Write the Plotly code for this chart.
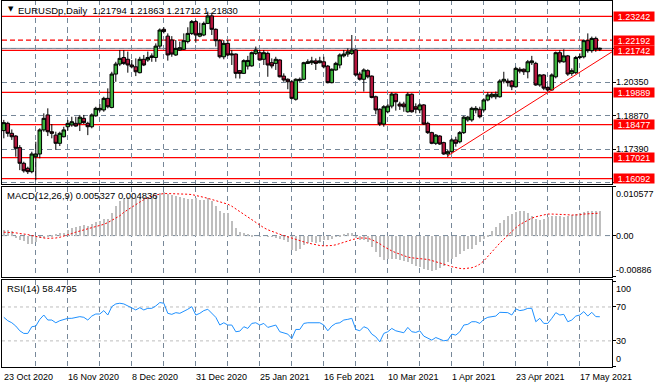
import pandas as pd
import plotly.graph_objects as go
from plotly.subplots import make_subplots

# ---------------- data ----------------
dates = [d.strftime("%Y-%m-%d") for d in pd.bdate_range("2020-10-23", "2021-05-24")
         if d.strftime("%m-%d") not in ("12-25", "01-01")]

opens = [1.1821, 1.1853, 1.1809, 1.1797, 1.1746, 1.1677, 1.1655, 1.1640, 1.1706, 1.1718,
         1.1824, 1.1890, 1.1816, 1.1801, 1.1765, 1.1794, 1.1838, 1.1846, 1.1853, 1.1853,
         1.1875, 1.1853, 1.1838, 1.1886, 1.1912, 1.1912, 1.1963, 1.1923, 1.2070, 1.2114,
         1.2143, 1.2135, 1.2110, 1.2102, 1.2076, 1.2135, 1.2132, 1.2143, 1.2143, 1.2193,
         1.2267, 1.2237, 1.2220, 1.2154, 1.2176, 1.2179, 1.2213, 1.2249, 1.2301, 1.2237,
         1.2242, 1.2293, 1.2326, 1.2267, 1.2217, 1.2146, 1.2205, 1.2154, 1.2158, 1.2085,
         1.2073, 1.2105, 1.2106, 1.2161, 1.2164, 1.2135, 1.2161, 1.2120, 1.2117, 1.2132,
         1.2061, 1.2047, 1.2036, 1.1959, 1.2041, 1.2047, 1.2117, 1.2120, 1.2128, 1.2120,
         1.2124, 1.2105, 1.2032, 1.2088, 1.2110, 1.2150, 1.2158, 1.2161, 1.2176, 1.2070,
         1.2047, 1.2085, 1.2061, 1.1970, 1.1915, 1.1850, 1.1904, 1.1929, 1.1982, 1.1938,
         1.1938, 1.1904, 1.1981, 1.1926, 1.1912, 1.1934, 1.1853, 1.1812, 1.1765, 1.1797,
         1.1768, 1.1718, 1.1728, 1.1780, 1.1772, 1.1812, 1.1868, 1.1868, 1.1912, 1.1915,
         1.1912, 1.1956, 1.1970, 1.1970, 1.1970, 1.2039, 1.2039, 1.2039, 1.2014, 1.2091,
         1.2091, 1.2080, 1.2120, 1.2117, 1.2022, 1.2066, 1.2011, 1.2000, 1.2058, 1.2164,
         1.2124, 1.2150, 1.2073, 1.2076, 1.2143, 1.2146, 1.2217, 1.2173, 1.2227, 1.21794]
highs = [1.1868, 1.1860, 1.1826, 1.1801, 1.1757, 1.1684, 1.1662, 1.1728, 1.1772, 1.1831,
         1.1897, 1.1919, 1.1850, 1.1816, 1.1816, 1.1838, 1.1868, 1.1882, 1.1882, 1.1890,
         1.1890, 1.1860, 1.1897, 1.1926, 1.1938, 1.1970, 1.2007, 1.2080, 1.2124, 1.2176,
         1.2176, 1.2169, 1.2132, 1.2139, 1.2146, 1.2154, 1.2169, 1.2161, 1.2205, 1.2271,
         1.2276, 1.2249, 1.2237, 1.2220, 1.2213, 1.2249, 1.2276, 1.2308, 1.2308, 1.2296,
         1.2301, 1.2345, 1.2340, 1.2271, 1.2223, 1.2220, 1.2220, 1.2176, 1.2161, 1.2088,
         1.2135, 1.2150, 1.2169, 1.2191, 1.2176, 1.2176, 1.2169, 1.2139, 1.2146, 1.2135,
         1.2073, 1.2051, 1.2044, 1.2051, 1.2055, 1.2124, 1.2135, 1.2146, 1.2139, 1.2146,
         1.2146, 1.2110, 1.2095, 1.2124, 1.2161, 1.2176, 1.2183, 1.2242, 1.2179, 1.2080,
         1.2095, 1.2091, 1.2064, 1.1975, 1.1919, 1.1933, 1.1938, 1.1990, 1.1985, 1.1948,
         1.1948, 1.1990, 1.1985, 1.1941, 1.1941, 1.1938, 1.1860, 1.1816, 1.1806, 1.1801,
         1.1772, 1.1736, 1.1787, 1.1794, 1.1819, 1.1886, 1.1886, 1.1926, 1.1929, 1.1926,
         1.1963, 1.1990, 1.1990, 1.1993, 1.2047, 1.2080, 1.2050, 1.2044, 1.2102, 1.2100,
         1.2095, 1.2132, 1.2150, 1.2124, 1.2070, 1.2070, 1.2017, 1.2073, 1.2169, 1.2176,
         1.2179, 1.2154, 1.2095, 1.2150, 1.2161, 1.2223, 1.2249, 1.2235, 1.2235, 1.21863]
lows = [1.1787, 1.1794, 1.1780, 1.1706, 1.1647, 1.1636, 1.1630, 1.1633, 1.1603, 1.1699,
        1.1816, 1.1797, 1.1787, 1.1736, 1.1753, 1.1791, 1.1821, 1.1838, 1.1838, 1.1819,
        1.1850, 1.1801, 1.1831, 1.1882, 1.1904, 1.1904, 1.1919, 1.1919, 1.2036, 1.2105,
        1.2110, 1.2076, 1.2095, 1.2061, 1.2073, 1.2105, 1.2124, 1.2124, 1.2124, 1.2183,
        1.2249, 1.2129, 1.2146, 1.2150, 1.2173, 1.2176, 1.2205, 1.2242, 1.2208, 1.2232,
        1.2237, 1.2290, 1.2242, 1.2191, 1.2139, 1.2135, 1.2149, 1.2110, 1.2051, 1.2050,
        1.2070, 1.2090, 1.2102, 1.2154, 1.2129, 1.2110, 1.2058, 1.2095, 1.2088, 1.2055,
        1.2036, 1.2003, 1.1959, 1.1953, 1.2036, 1.2044, 1.2114, 1.2110, 1.2088, 1.2117,
        1.2095, 1.2029, 1.2029, 1.2085, 1.2095, 1.2143, 1.2146, 1.2154, 1.2062, 1.2041,
        1.1993, 1.2051, 1.1963, 1.1893, 1.1841, 1.1838, 1.1897, 1.1919, 1.1909, 1.1912,
        1.1904, 1.1900, 1.1900, 1.1897, 1.1897, 1.1846, 1.1806, 1.1761, 1.1758, 1.1758,
        1.1714, 1.1704, 1.1721, 1.1750, 1.1765, 1.1806, 1.1860, 1.1860, 1.1897, 1.1875,
        1.1904, 1.1950, 1.1963, 1.1959, 1.1966, 1.2029, 1.2015, 1.1999, 1.2010, 1.2073,
        1.2066, 1.2051, 1.2110, 1.2018, 1.2014, 1.1999, 1.1993, 1.1996, 1.2051, 1.2117,
        1.2120, 1.2062, 1.2062, 1.2070, 1.2135, 1.2139, 1.2164, 1.2164, 1.2168, 1.21712]
closes = [1.1856, 1.1809, 1.1794, 1.1743, 1.1677, 1.1644, 1.1640, 1.1718, 1.1718, 1.1824,
          1.1875, 1.1816, 1.1809, 1.1765, 1.1809, 1.1824, 1.1853, 1.1860, 1.1841, 1.1880,
          1.1856, 1.1838, 1.1890, 1.1919, 1.1919, 1.1963, 1.1926, 1.2070, 1.2114, 1.2139,
          1.2117, 1.2110, 1.2102, 1.2080, 1.2135, 1.2110, 1.2143, 1.2150, 1.2193, 1.2264,
          1.2257, 1.2154, 1.2158, 1.2183, 1.2186, 1.2217, 1.2249, 1.2301, 1.2242, 1.2249,
          1.2293, 1.2326, 1.2267, 1.2217, 1.2146, 1.2205, 1.2154, 1.2158, 1.2073, 1.2073,
          1.2129, 1.2130, 1.2164, 1.2176, 1.2132, 1.2164, 1.2110, 1.2106, 1.2135, 1.2058,
          1.2044, 1.2036, 1.1963, 1.2047, 1.2047, 1.2120, 1.2124, 1.2128, 1.2117, 1.2128,
          1.2102, 1.2032, 1.2091, 1.2117, 1.2154, 1.2158, 1.2168, 1.2176, 1.2066, 1.2047,
          1.2088, 1.2058, 1.1967, 1.1912, 1.1850, 1.1926, 1.1929, 1.1982, 1.1948, 1.1929,
          1.1926, 1.1981, 1.1904, 1.1915, 1.1934, 1.1850, 1.1812, 1.1765, 1.1801, 1.1762,
          1.1718, 1.1728, 1.1780, 1.1765, 1.1812, 1.1880, 1.1880, 1.1919, 1.1919, 1.1882,
          1.1956, 1.1978, 1.1981, 1.1981, 1.2039, 1.2047, 1.2032, 1.2014, 1.2095, 1.2083,
          1.2080, 1.2124, 1.2128, 1.2022, 1.2066, 1.2008, 1.2000, 1.2066, 1.2164, 1.2124,
          1.2150, 1.2070, 1.2085, 1.2143, 1.2146, 1.2217, 1.2173, 1.2227, 1.2179, 1.21830]

macd_main = [0.00133, 0.00133, 0.00118, -0.00029, -0.00074, -0.00110, -0.00162, -0.00177, -0.00125, -0.00029,
             -0.00029, 0.00022, 0.00022, 0.00044, 0.00059, 0.00074, 0.00133, 0.00169, 0.00206, 0.00228,
             0.00243, 0.00221, 0.00265, 0.00295, 0.00317, 0.00368, 0.00368, 0.00501, 0.00648, 0.00758,
             0.00810, 0.00832, 0.00832, 0.00810, 0.00832, 0.00832, 0.00832, 0.00854, 0.00884, 0.00928,
             0.00942, 0.00906, 0.00884, 0.00869, 0.00832, 0.00810, 0.00795, 0.00795, 0.00810, 0.00780,
             0.00780, 0.00810, 0.00758, 0.00648, 0.00538, 0.00501, 0.00501, 0.00317, 0.00169, 0.00096,
             0.00059, 0.00044, 0.00022, 0.00000, -0.00015, 0.00000, -0.00015, -0.00015, -0.00029, -0.00052,
             -0.00088, -0.00125, -0.00309, -0.00324, -0.00272, -0.00199, -0.00147, -0.00125, -0.00147, -0.00125,
             -0.00074, -0.00088, -0.00052, -0.00015, 0.00022, 0.00044, 0.00059, 0.00074, -0.00029, -0.00074,
             -0.00088, -0.00125, -0.00236, -0.00346, -0.00457, -0.00515, -0.00493, -0.00493, -0.00493, -0.00515,
             -0.00545, -0.00567, -0.00604, -0.00641, -0.00663, -0.00714, -0.00736, -0.00751, -0.00736, -0.00692,
             -0.00641, -0.00567, -0.00493, -0.00442, -0.00383, -0.00324, -0.00272, -0.00272, -0.00199, -0.00125,
             -0.00052, 0.00022, 0.00118, 0.00206, 0.00280, 0.00353, 0.00427, 0.00479, 0.00523, 0.00538,
             0.00538, 0.00501, 0.00442, 0.00368, 0.00339, 0.00368, 0.00412, 0.00427, 0.00442, 0.00427,
             0.00412, 0.00427, 0.00464, 0.00486, 0.00501, 0.00523, 0.00538, 0.00545, 0.00530, 0.005327]
macd_signal = [0.00074, 0.00074, 0.00066, 0.00059, 0.00044, 0.00037, 0.00022, 0.00000, -0.00022, -0.00044,
               -0.00052, -0.00059, -0.00059, -0.00052, -0.00037, -0.00015, 0.00015, 0.00044, 0.00074, 0.00096,
               0.00118, 0.00140, 0.00162, 0.00184, 0.00206, 0.00243, 0.00280, 0.00324, 0.00368, 0.00427,
               0.00501, 0.00560, 0.00618, 0.00670, 0.00722, 0.00773, 0.00817, 0.00854, 0.00876, 0.00898,
               0.00906, 0.00906, 0.00906, 0.00906, 0.00898, 0.00898, 0.00891, 0.00884, 0.00869, 0.00847,
               0.00825, 0.00803, 0.00780, 0.00758, 0.00736, 0.00707, 0.00677, 0.00633, 0.00574, 0.00515,
               0.00457, 0.00398, 0.00339, 0.00280, 0.00221, 0.00169, 0.00125, 0.00088, 0.00059, 0.00029,
               0.00000, -0.00029, -0.00059, -0.00088, -0.00118, -0.00140, -0.00162, -0.00177, -0.00199, -0.00214,
               -0.00221, -0.00221, -0.00214, -0.00199, -0.00177, -0.00147, -0.00118, -0.00088, -0.00066, -0.00052,
               -0.00052, -0.00059, -0.00088, -0.00125, -0.00177, -0.00236, -0.00287, -0.00331, -0.00368, -0.00405,
               -0.00442, -0.00464, -0.00479, -0.00486, -0.00493, -0.00501, -0.00515, -0.00538, -0.00560, -0.00582,
               -0.00611, -0.00641, -0.00670, -0.00692, -0.00707, -0.00714, -0.00707, -0.00692, -0.00663, -0.00618,
               -0.00545, -0.00457, -0.00353, -0.00258, -0.00162, -0.00074, 0.00015, 0.00096, 0.00169, 0.00236,
               0.00287, 0.00339, 0.00376, 0.00405, 0.00427, 0.00449, 0.00464, 0.00464, 0.00464, 0.00464,
               0.00457, 0.00449, 0.00442, 0.00442, 0.00449, 0.00464, 0.00471, 0.00479, 0.00486, 0.004836]
rsi = [57.8, 53.8, 51.4, 47.5, 41.9, 38.8, 38.8, 46.7, 47.5, 55.4,
       60.5, 54.6, 54.6, 51.4, 53.8, 55.4, 56.6, 56.6, 57.8, 58.6,
       57.8, 54.6, 59.3, 61.7, 61.7, 65.7, 60.5, 70.4, 73.6, 74.4,
       73.6, 71.2, 68.4, 66.5, 69.2, 66.5, 68.4, 68.4, 71.2, 75.2,
       74.4, 62.5, 61.3, 63.3, 62.5, 64.5, 67.3, 70.4, 60.5, 62.5,
       65.7, 67.3, 62.5, 57.8, 48.7, 51.4, 48.7, 48.7, 40.8, 41.5,
       46.7, 44.7, 50.6, 51.4, 48.7, 50.6, 45.9, 47.5, 48.7, 40.8,
       39.6, 38.0, 32.8, 43.5, 43.5, 50.6, 51.4, 51.4, 50.6, 51.4,
       48.7, 41.9, 47.5, 50.6, 51.4, 54.6, 55.4, 56.6, 43.5, 41.9,
       46.7, 44.7, 38.0, 34.8, 28.9, 38.8, 40.8, 44.7, 41.9, 40.8,
       39.6, 45.9, 40.8, 40.0, 41.9, 35.6, 32.8, 30.9, 34.0, 31.7,
       30.1, 30.9, 38.0, 36.8, 40.8, 48.7, 49.5, 52.6, 52.6, 50.6,
       55.4, 57.8, 58.6, 59.3, 63.7, 63.7, 63.3, 60.5, 67.7, 65.7,
       66.5, 68.4, 68.4, 52.6, 56.6, 50.6, 50.6, 56.6, 63.3, 60.5,
       61.3, 52.6, 54.6, 59.3, 60.5, 64.5, 59.3, 63.7, 58.6, 58.4795]

# horizontal levels drawn on the price chart
level_values = [1.23242, 1.22192, 1.21742, 1.19889, 1.18477, 1.17021, 1.16092]
level_dashed = [False, True, False, False, False, False, False]
bid_price = 1.21830
price_grid = [1.2183, 1.2035, 1.1887, 1.1739, 1.1591]
price_grid_labels = ["", "1.20350", "1.18870", "1.17390", ""]
trend_x = [111, 152.05]
trend_y = [1.1710, 1.2168]

tick_dates = ["2020-10-23", "2020-11-16", "2020-12-08", "2020-12-31", "2021-01-25",
              "2021-02-16", "2021-03-10", "2021-04-01", "2021-04-23", "2021-05-17"]
tick_labels = ["23 Oct 2020", "16 Nov 2020", "8 Dec 2020", "31 Dec 2020", "25 Jan 2021",
               "16 Feb 2021", "10 Mar 2021", "1 Apr 2021", "23 Apr 2021", "17 May 2021"]

title_text = "EURUSDp,Daily\u00a0\u00a01,21794 1.21863 1.21712 1.21830"
macd_text = "MACD(12,26,9) 0.005327 0.004836"
rsi_text = "RSI(14) 58.4795"
macd_range = [-0.00886, 0.010577]

# ---------------- figure ----------------
W, H = 657, 389
FONT = "Liberation Sans, Arial, sans-serif"
GRID = "#778899"


def px_y(p):
    return 1 - p / H


def px_x(p):
    return p / W


fig = make_subplots(rows=3, cols=1, shared_xaxes=True)

fig.add_trace(go.Candlestick(
    x=dates, open=opens, high=highs, low=lows, close=closes,
    increasing=dict(fillcolor="#3CB43C", line=dict(color="black", width=1)),
    decreasing=dict(fillcolor="#B4143C", line=dict(color="black", width=1)),
    whiskerwidth=0, hoverinfo="skip"), row=1, col=1)

fig.add_trace(go.Bar(x=dates, y=macd_main, width=0.28, marker=dict(color="#BEBEBE", line=dict(width=0))),
              row=2, col=1)
fig.add_trace(go.Scatter(x=dates, y=macd_signal, mode="lines",
                         line=dict(color="#FF0000", width=1, dash="2px,2px")), row=2, col=1)
fig.add_trace(go.Scatter(x=dates, y=rsi, mode="lines",
                         line=dict(color="#1E90FF", width=1)), row=3, col=1)

xgrid = dates[8::8]
for i in (1, 2, 3):
    fig.update_xaxes(type="category", range=[-0.45, 152.05], domain=[px_x(2), px_x(612)],
                     tickvals=xgrid, showticklabels=False, ticks="",
                     showgrid=True, gridcolor=GRID, gridwidth=1, griddash="5px,4px",
                     showline=True, mirror=True, linecolor="black", linewidth=1,
                     zeroline=False, row=i, col=1)
fig.update_xaxes(rangeslider_visible=False, row=1, col=1)

fig.update_yaxes(domain=[px_y(184.3), px_y(0.5)], range=[1.15845, 1.23939], side="right",
                 tickvals=price_grid, showticklabels=False, ticks="outside", ticklen=3,
                 tickcolor="black", showgrid=True, gridcolor=GRID, griddash="5px,4px",
                 showline=True, mirror=True, linecolor="black", zeroline=False, row=1, col=1)
fig.update_yaxes(domain=[px_y(276.7), px_y(186.5)], range=macd_range, side="right",
                 tickvals=[macd_range[1], 0, macd_range[0]], showticklabels=False, ticks="outside",
                 ticklen=3, tickcolor="black", showgrid=False,
                 showline=True, mirror=True, linecolor="black", zeroline=False, row=2, col=1)
fig.update_yaxes(domain=[px_y(366.5), px_y(279.5)], range=[-0.2, 102.4], side="right",
                 tickvals=[100, 70, 30, 0], showticklabels=False, ticks="outside",
                 ticklen=3, tickcolor="black", showgrid=False,
                 showline=True, mirror=True, linecolor="black", zeroline=False, row=3, col=1)

shapes = []
# bid line
shapes.append(dict(type="line", xref="x domain", yref="y", x0=0, x1=1, y0=bid_price, y1=bid_price,
                   line=dict(color=GRID, width=1), layer="below"))
for v, d in zip(level_values, level_dashed):
    shapes.append(dict(type="line", xref="x domain", yref="y", x0=0, x1=1, y0=v, y1=v,
                       line=dict(color="#FF0000", width=1.2, dash="5px,3px" if d else "solid"),
                       layer="below"))
shapes.append(dict(type="line", xref="x", yref="y", x0=trend_x[0], x1=trend_x[1],
                   y0=trend_y[0], y1=trend_y[1], line=dict(color="#FF0000", width=1)))
shapes.append(dict(type="line", xref="x2 domain", yref="y2", x0=0, x1=1, y0=0, y1=0,
                   line=dict(color=GRID, width=1, dash="5px,4px"), layer="below"))
for v in (70, 30):
    shapes.append(dict(type="line", xref="x3 domain", yref="y3", x0=0, x1=1, y0=v, y1=v,
                       line=dict(color="#BDBDBD", width=1, dash="3px,3px"), layer="below"))

ann = []
ann.append(dict(x=px_x(6), y=px_y(9.5), xref="paper", yref="paper", xanchor="left", yanchor="middle",
                text="▼", showarrow=False, font=dict(family="DejaVu Sans", size=7, color="black")))
ann.append(dict(x=px_x(16), y=px_y(10), xref="paper", yref="paper", xanchor="left", yanchor="middle",
                text=title_text, showarrow=False, font=dict(family=FONT, size=9.5, color="black")))
ann.append(dict(x=px_x(5), y=px_y(195.5), xref="paper", yref="paper", xanchor="left", yanchor="middle",
                text=macd_text, showarrow=False, font=dict(family=FONT, size=9.5, color="black")))
ann.append(dict(x=px_x(5), y=px_y(288.5), xref="paper", yref="paper", xanchor="left", yanchor="middle",
                text=rsi_text, showarrow=False, font=dict(family=FONT, size=9.5, color="black")))

lab_x = px_x(614)
for v, t in zip(price_grid, price_grid_labels):
    if t:
        ann.append(dict(x=lab_x, y=v, xref="paper", yref="y", xanchor="left", yanchor="middle",
                        text=t, showarrow=False, font=dict(family=FONT, size=9, color="black")))
for v in level_values:
    ann.append(dict(x=px_x(613), y=v, xref="paper", yref="y", xanchor="left", yanchor="middle",
                    text=f"{v:.5f}", showarrow=False, bgcolor="#FF0000", borderpad=0,
                    width=40, height=9, align="center",
                    font=dict(family=FONT, size=9, color="white")))

ann.append(dict(x=lab_x, y=macd_range[1], xref="paper", yref="y2", xanchor="left", yanchor="top",
                text=f"{macd_range[1]:.6f}", showarrow=False, font=dict(family=FONT, size=9, color="black")))
ann.append(dict(x=lab_x, y=0, xref="paper", yref="y2", xanchor="left", yanchor="middle",
                text="0.00", showarrow=False, font=dict(family=FONT, size=9, color="black")))
ann.append(dict(x=lab_x, y=macd_range[0], xref="paper", yref="y2", xanchor="left", yanchor="bottom",
                text=f"{macd_range[0]:.5f}", showarrow=False, font=dict(family=FONT, size=9, color="black")))
for v, anc in ((100, "top"), (70, "middle"), (30, "middle"), (0, "bottom")):
    ann.append(dict(x=lab_x, y=v, xref="paper", yref="y3", xanchor="left", yanchor=anc,
                    text=str(v), showarrow=False, font=dict(family=FONT, size=9, color="black")))

for d, t in zip(tick_dates, tick_labels):
    ann.append(dict(x=dates.index(d), y=px_y(377), xref="x3", yref="paper", xanchor="left",
                    yanchor="middle", xshift=-2, text=t, showarrow=False,
                    font=dict(family=FONT, size=9, color="black")))

fig.update_layout(width=W, height=H, margin=dict(l=0, r=0, t=0, b=0),
                  paper_bgcolor="white", plot_bgcolor="white", showlegend=False,
                  hovermode=False, boxgap=0.12, boxgroupgap=0, bargap=0,
                  shapes=shapes, annotations=ann)

fig.write_html("out.html", config={"displayModeBar": False},
               post_script="document.body.style.margin='0';document.body.style.padding='0';"
                           "document.body.style.overflow='hidden';")
